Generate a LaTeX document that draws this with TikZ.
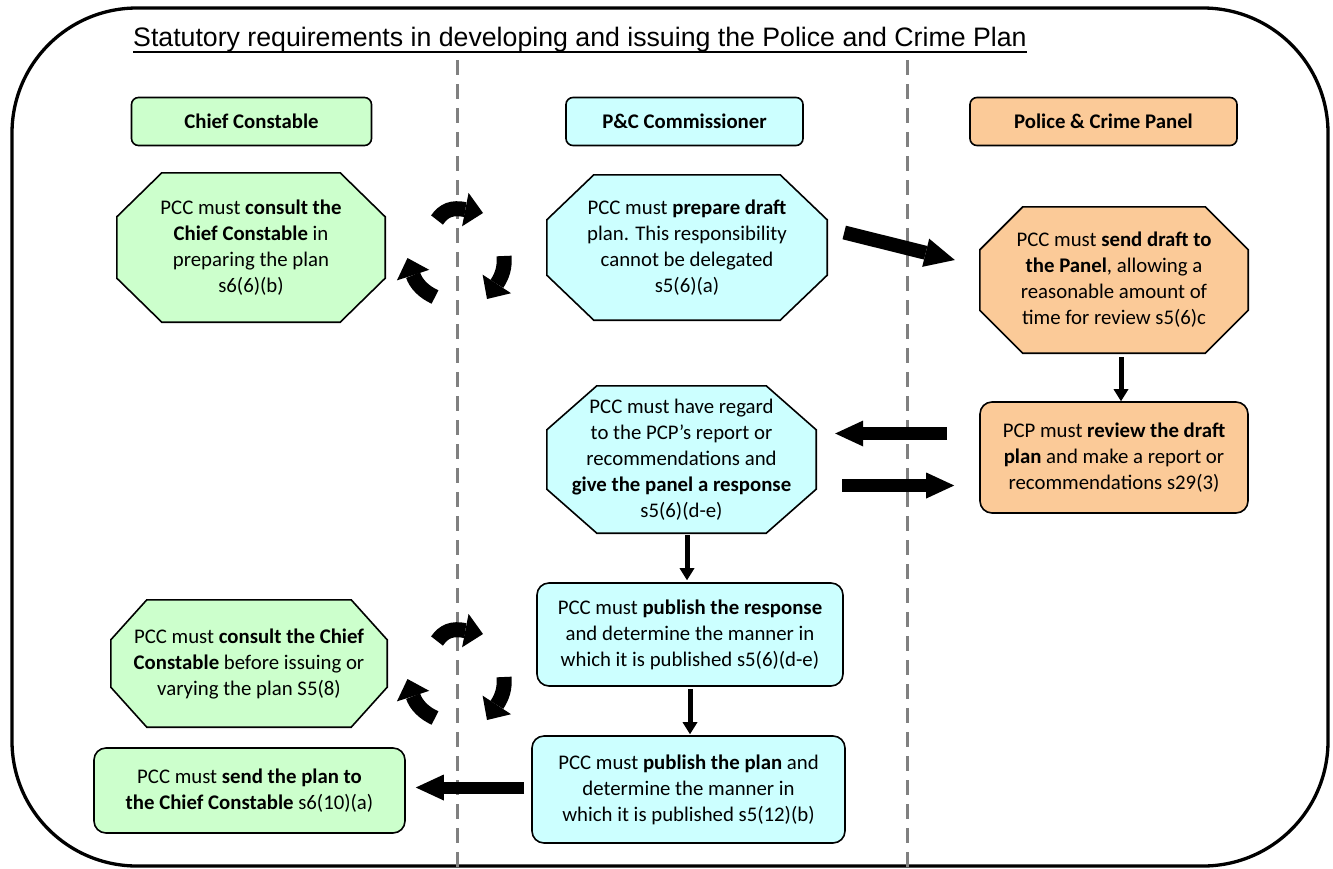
\documentclass[tikz,border=0pt]{standalone}
\usepackage{fontspec}
\setmainfont{Carlito}
\newfontfamily\titlefont{Liberation Sans}
\usetikzlibrary{arrows.meta,calc,backgrounds}
\definecolor{ccgreen}{RGB}{204,255,204}
\definecolor{pccblue}{RGB}{204,255,255}
\definecolor{pcporange}{RGB}{251,202,152}
\definecolor{dashgrey}{RGB}{128,128,128}
\newcommand{\octo}[4]{%
  \filldraw[octline, fill=#2]
    ($(#1.north west)+(#3,0)$) -- ($(#1.north east)+(-#3,0)$)
    -- ($(#1.north east)+(0,#4)$) -- ($(#1.south east)+(0,-#4)$)
    -- ($(#1.south east)+(-#3,0)$) -- ($(#1.south west)+(#3,0)$)
    -- ($(#1.south west)+(0,-#4)$) -- ($(#1.north west)+(0,#4)$) -- cycle;}
\begin{document}
\begin{tikzpicture}[x=1pt,y=-1pt,line join=miter,
  body/.style={font=\fontsize{20.8}{26}\selectfont, align=center, inner sep=0pt},
  octnode/.style={body},
  rbox/.style={body, draw=black, line width=1.6pt, rounded corners=12pt},
  hbox/.style={draw=black, line width=1.6pt, rounded corners=7pt, inner sep=0pt,
    font=\fontsize{20.8}{25}\selectfont\bfseries, minimum height=48pt},
  octline/.style={draw=black, line width=1.6pt},
  blockarrow/.style={line width=13pt, -{Triangle[length=28pt,width=26pt,line width=0pt]}},
  thinarrow/.style={line width=5pt, -{Triangle[length=12pt,width=15pt,line width=0pt]}},
  cyclearrow/.style={line width=15pt, -{Triangle[length=18pt,width=34pt,line width=0pt]}},
  lane/.style={draw=dashgrey, line width=3pt, dash pattern=on 15pt off 9pt}]
\useasboundingbox (0,0) rectangle (1333,868);

% frame and swim lanes
\draw[line width=3.3pt, rounded corners=125pt] (12,8) rectangle (1328,866);
\coordinate (lane1top) at (457,60);
\coordinate (lane1bot) at (457,868);
\coordinate (lane2top) at (907,60);
\coordinate (lane2bot) at (907,868);
\draw[lane] (lane1top) -- (lane1bot);
\draw[lane] (lane2top) -- (lane2bot);

% title
\node[anchor=base west, inner sep=0pt, font=\titlefont\fontsize{26.7}{30}\selectfont] (title) at (133,46)
  {Statutory requirements in developing and issuing the Police and Crime Plan};
\draw[line width=1.8pt] ($(title.base west)+(0,6)$) -- ($(title.base east)+(0,6)$);

% headers
\node[hbox, fill=ccgreen, minimum width=240pt] (hCC) at (251.5,121.5) {Chief Constable};
\node[hbox, fill=pccblue, minimum width=237pt] (hPCC) at (684.5,121.5) {P\&C Commissioner};
\node[hbox, fill=pcporange, minimum width=267pt] (hPCP) at (1103.5,121.5) {Police \& Crime Panel};

% octagon nodes (outline drawn on background layer)
\node[octnode, minimum width=268pt, minimum height=149pt] (o1) at (251,247.5)
  {PCC must \textbf{consult the}\\ \textbf{Chief Constable} in\\ preparing the plan\\ s6(6)(b)};
\node[octnode, minimum width=280pt, minimum height=145pt] (o2) at (687,247.5)
  {PCC must \textbf{prepare draft}\\ plan. This responsibility\\ cannot be delegated\\ s5(6)(a)};
\node[octnode, minimum width=268pt, minimum height=146pt] (o3) at (1114,280)
  {PCC must \textbf{send draft to}\\ \textbf{the Panel}, allowing a\\ reasonable amount of\\ time for review s5(6)c};
\node[octnode, minimum width=269pt, minimum height=147pt] (o4) at (681.5,459.5)
  {PCC must have regard\\ to the PCP’s report or\\ recommendations and\\ \textbf{give the panel a response}\\ s5(6)(d-e)};
\node[octnode, minimum width=276pt, minimum height=127pt] (o5) at (249,663.5)
  {PCC must \textbf{consult the Chief}\\ \textbf{Constable} before issuing or\\ varying the plan S5(8)};

% rounded boxes
\node[rbox, fill=pcporange, minimum width=268pt, minimum height=111pt] (rev) at (1114,457.5)
  {PCP must \textbf{review the draft}\\ \textbf{plan} and make a report or\\ recommendations s29(3)};
\node[rbox, fill=pccblue, minimum width=306pt, minimum height=103pt] (pr) at (690,634.5)
  {PCC must \textbf{publish the response}\\ and determine the manner in\\ which it is published s5(6)(d-e)};
\node[rbox, fill=pccblue, minimum width=313pt, minimum height=107pt] (pp) at (688.5,789.5)
  {PCC must \textbf{publish the plan} and\\ determine the manner in\\ which it is published s5(12)(b)};
\node[rbox, fill=ccgreen, minimum width=311pt, minimum height=85pt] (send) at (249.5,790.5)
  {PCC must \textbf{send the plan to}\\ \textbf{the Chief Constable} s6(10)(a)};

\begin{scope}[on background layer]
  \octo{o1}{ccgreen}{45}{44}
  \octo{o2}{pccblue}{47}{45}
  \octo{o3}{pcporange}{43}{43}
  \octo{o4}{pccblue}{50}{44}
  \octo{o5}{ccgreen}{36}{40}
\end{scope}

% straight arrows
\draw[blockarrow, line width=14pt, -{Triangle[length=30pt,width=29pt,line width=0pt]}]
  ($(o2.east)+(17,-15)$) -- ($(o3.west)+(-25,-20)$);
\draw[thinarrow] ($(o3.south)+(7,4)$) -- ($(rev.north)+(7,0)$);
\draw[blockarrow] ($(rev.west)+(-32,-24)$) -- ($(o4.east)+(19,-26)$);
\draw[blockarrow] ($(o4.east)+(26,26)$) -- ($(rev.west)+(-25,28)$);
\draw[thinarrow] ($(o4.south)+(5.5,2)$) -- ($(pr.north)+(-3,-2)$);
\draw[thinarrow] ($(pr.south)+(0,2)$) -- ($(pp.north)+(1.5,-1)$);
\draw[blockarrow, line width=12pt] ($(pp.west)+(-7,-2)$) -- ($(send.east)+(10,-3)$);

% consultation cycles
\foreach \dy/\nm in {0/a,421/b}{
  \begin{scope}[shift={(0,\dy)}]
    \coordinate (t1\nm) at (437,220);
    \coordinate (t2\nm) at (483,213);
    \coordinate (r1\nm) at (504,256);
    \coordinate (r2\nm) at (487,299);
    \coordinate (l1\nm) at (435,297);
    \coordinate (l2\nm) at (407.5,258);
    \draw[cyclearrow] (t1\nm) .. controls (444,210) and (452,207) .. (t2\nm);
    \draw[cyclearrow] (r1\nm) .. controls (505,268) and (502,276) .. (r2\nm);
    \draw[cyclearrow] (l1\nm) .. controls (424,292) and (416,284) .. (l2\nm);
  \end{scope}
}
\end{tikzpicture}
\end{document}
